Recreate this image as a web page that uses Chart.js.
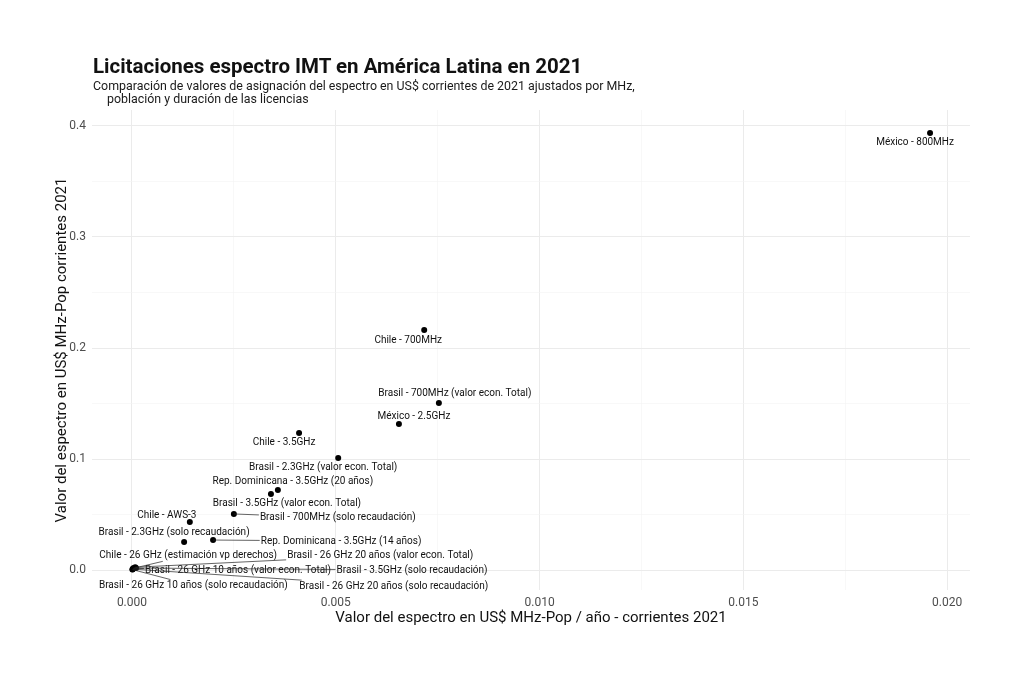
<!DOCTYPE html>
<html>
<head>
<meta charset="utf-8">
<script src="https://cdn.jsdelivr.net/npm/chart.js@4.4.1/dist/chart.umd.min.js"></script>
<style>
html,body{margin:0;padding:0;background:#fff}
#wrap{position:relative;width:1024px;height:683px;font-family:Roboto,sans-serif}
#wrap canvas{position:absolute;left:0;top:0}
#title{position:absolute;left:93px;top:56px;font-size:20.5px;line-height:20.5px;font-weight:700;color:#111;white-space:nowrap}
#subtitle{position:absolute;left:93px;top:79px;font-size:12.4px;line-height:13.3px;color:#1a1a1a;white-space:nowrap}
#subtitle span{display:block}
#subtitle span+span{margin-left:14px}
</style>
</head>
<body>
<div id="wrap">
  <canvas id="chart" width="1024" height="683"></canvas>
  <div id="title">Licitaciones espectro IMT en América Latina en 2021</div>
  <div id="subtitle"><span>Comparación de valores de asignación del espectro en US$ corrientes de 2021 ajustados por MHz,</span><span>población y duración de las licencias</span></div>
</div>
<script>
// datos
const names = [
  'México - 800MHz',
  'Chile - 700MHz',
  'Brasil - 700MHz (valor econ. Total)',
  'México - 2.5GHz',
  'Chile - 3.5GHz',
  'Brasil - 2.3GHz (valor econ. Total)',
  'Rep. Dominicana - 3.5GHz (20 años)',
  'Brasil - 3.5GHz (valor econ. Total)',
  'Brasil - 700MHz (solo recaudación)',
  'Chile - AWS-3',
  'Brasil - 2.3GHz (solo recaudación)',
  'Rep. Dominicana - 3.5GHz (14 años)',
  'Chile - 26 GHz (estimación vp derechos)',
  'Brasil - 26 GHz 20 años (valor econ. Total)',
  'Brasil - 26 GHz 10 años (valor econ. Total)',
  'Brasil - 3.5GHz (solo recaudación)',
  'Brasil - 26 GHz 10 años (solo recaudación)',
  'Brasil - 26 GHz 20 años (solo recaudación)'
];
// US$ MHz-Pop / año
const valAnual = [0.01958,0.00717,0.00753,0.00655,0.0041,0.00506,0.00358,0.00341,0.0025,0.00142,0.00128,0.00199,0.00003,0.00008,0.00005,0.0001,0.00001,0.00002];
// US$ MHz-Pop
const valTotal = [0.3937,0.2162,0.1505,0.1315,0.1234,0.1009,0.0721,0.0685,0.0505,0.0432,0.0252,0.027,0.0015,0.0025,0.0015,0.0018,0.0004,0.0008];

const xMajor = [0,0.005,0.01,0.015,0.02];
const xMinor = [0.0025,0.0075,0.0125,0.0175];
const yMajor = [0,0.1,0.2,0.3,0.4];
const yMinor = [0.05,0.15,0.25,0.35];

// desplazamiento de etiquetas (px) tipo ggrepel
const nudge = [[-15,10],[-16,10],[16,-9],[15,-8],[-15,9],[-15,9],[15,-8],[16,10],[104,4],[-23,-7],[-10,-10],[128,1],[55,-13],[245,-12],[104,2],[276,2],[61,16],[261,17]];

const isMajor=(list,v)=>list.some(m=>Math.abs(m-v)<1e-9);
const allTicks=(a,b)=>[...a,...b].sort((p,q)=>p-q).map(v=>({value:v}));

const repelLabels={
  id:'repelLabels',
  afterDatasetsDraw(chart){
    const {ctx,scales:{x,y}}=chart;
    ctx.save();
    ctx.font='10px Roboto, sans-serif';
    ctx.textAlign='center';ctx.textBaseline='middle';
    const segs=[];
    names.forEach((n,i)=>{
      const px=x.getPixelForValue(valAnual[i]),py=y.getPixelForValue(valTotal[i]);
      const cx=px+nudge[i][0],cy=py+nudge[i][1];
      const hw=ctx.measureText(n).width/2+1,hh=6;
      ctx.fillStyle='#111';ctx.fillText(n,cx,cy);
      // punto donde la recta punto->centro corta la caja
      const dx=cx-px,dy=cy-py;let t=1;
      if(Math.abs(dx)>hw||Math.abs(dy)>hh){
        const tx=dx!==0?1-hw/Math.abs(dx):1,ty=dy!==0?1-hh/Math.abs(dy):1;
        t=Math.max(Math.min(tx,1),Math.min(ty,1),0);
        if(Math.abs(dx)<=hw)t=ty;if(Math.abs(dy)<=hh)t=tx;
        const ex=px+dx*t,ey=py+dy*t;
        if(Math.hypot(ex-px,ey-py)>8)segs.push([px,py,ex,ey]);
      }
    });
    ctx.strokeStyle='#222';ctx.lineWidth=0.7;
    segs.forEach(s=>{ctx.beginPath();ctx.moveTo(s[0],s[1]);ctx.lineTo(s[2],s[3]);ctx.stroke();});
    ctx.restore();
  }
};

new Chart(document.getElementById('chart'),{
  type:'scatter',
  data:{datasets:[{data:valAnual.map((v,i)=>({x:v,y:valTotal[i]})),backgroundColor:'#000',borderWidth:0,pointRadius:3,pointHoverRadius:3}]},
  options:{
    responsive:false,animation:false,
    layout:{padding:{top:110,left:53,right:54,bottom:56}},
    plugins:{legend:{display:false},tooltip:{enabled:false}},
    scales:{
      x:{type:'linear',min:-0.00098,max:0.02056,
        afterBuildTicks:s=>{s.ticks=allTicks(xMajor,xMinor);},
        afterFit:s=>{s.height=37;},
        border:{display:false},
        grid:{drawTicks:false,tickLength:0,color:c=>isMajor(xMajor,c.tick.value)?'#ebebeb':'#f4f4f4',lineWidth:c=>isMajor(xMajor,c.tick.value)?1:0.6},
        ticks:{autoSkip:false,maxRotation:0,padding:6,color:'#4d4d4d',font:{family:'Roboto',size:12},callback:v=>isMajor(xMajor,v)?v.toFixed(3):''},
        title:{display:true,text:'Valor del espectro en US$ MHz-Pop / año - corrientes 2021',color:'#111',font:{family:'Roboto',size:15},padding:0}
      },
      y:{type:'linear',min:-0.018,max:0.4144,
        afterBuildTicks:s=>{s.ticks=allTicks(yMajor,yMinor);},
        afterFit:s=>{s.width=39;},
        border:{display:false},
        grid:{drawTicks:false,tickLength:0,color:c=>isMajor(yMajor,c.tick.value)?'#ebebeb':'#f4f4f4',lineWidth:c=>isMajor(yMajor,c.tick.value)?1:0.6},
        ticks:{autoSkip:false,padding:6,color:'#4d4d4d',font:{family:'Roboto',size:12},callback:v=>isMajor(yMajor,v)?v.toFixed(1):''},
        title:{display:true,text:'Valor del espectro en US$ MHz-Pop corrientes 2021',color:'#111',font:{family:'Roboto',size:15},padding:0}
      }
    }
  },
  plugins:[repelLabels]
});
</script>
</body>
</html>
